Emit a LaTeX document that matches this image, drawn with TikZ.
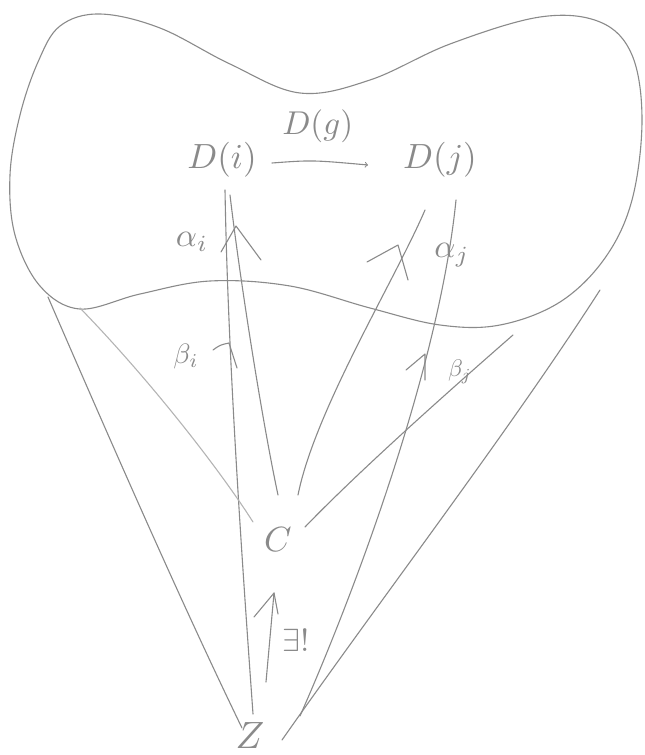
\documentclass[tikz,border=0pt]{standalone}
\usetikzlibrary{calc}
\definecolor{pen}{HTML}{8A8A8A}
\definecolor{penlight}{HTML}{B4B4B4}
\newcommand{\handtxt}[2]{\scalebox{#1}{$#2$}}
\begin{document}
\begin{tikzpicture}[x=1pt,y=-1pt,
  stroke/.style={draw=pen,line width=1.1pt,line cap=round,line join=round},
  lightstroke/.style={draw=penlight,line width=1.1pt,line cap=round},
  obj/.style={text=pen,inner sep=0pt},
  lab/.style={text=pen,inner sep=0pt},
  caret/.style={stroke}]
\useasboundingbox (0,0) rectangle (645,755);
% blob
\draw[stroke] plot[smooth cycle,tension=0.6] coordinates {
 (38,62) (60,26) (100,14) (160,28) (230,64) (300,93) (370,80) (450,44) (540,17)
 (600,22) (632,55) (642,120) (632,200) (605,258) (560,302) (500,325) (440,325)
 (370,308) (290,286) (210,281) (140,294) (80,309) (40,286) (15,235) (10,175) (20,115)};
% objects
\node[obj] (Di) at (222,160) {\handtxt{3.5}{D(i)}};
\node[obj] (Dj) at (440,160) {\handtxt{3.5}{D(j)}};
\node[obj] (C) at (278,540) {\handtxt{3.5}{C}};
\node[obj] (Z) at (250,736) {\handtxt{3.8}{Z}};
% free ends
\coordinate (bjend) at (513,335);
\coordinate (l1end) at (48,297);
\coordinate (l2end) at (80,308);
\coordinate (l8end) at (600,290);
% D(g)
\draw[stroke,->] ($(Di)+(50,3)$) .. controls ($(Di)+(90,0)$) .. ($(Dj)+(-72,5)$)
  node[lab,pos=0.55,above=18pt] {\handtxt{3.3}{D(g)}};
% alpha_i : C -> D(i)
\draw[stroke] ($(Di)+(8,35)$) .. controls ($(Di)+(18,120)$) and ($(C)+(-16,-120)$) .. ($(C)+(0,-45)$);
% alpha_j : C -> D(j)
\draw[stroke] ($(Dj)+(-15,50)$) .. controls ($(Dj)+(-45,120)$) and ($(C)+(37,-130)$) .. ($(C)+(20,-45)$);
% beta_i : Z -> D(i)
\draw[stroke] ($(Di)+(3,30)$) .. controls ($(Di)+(6,200)$) and ($(Z)+(-8,-176)$) .. ($(Z)+(3,-22)$);
% beta_j : Z -> D(j)
\draw[stroke] ($(Dj)+(16,40)$) .. controls ($(Dj)+(0,200)$) and ($(Z)+(110,-156)$) .. ($(Z)+(50,-20)$);
% cone lines
\draw[stroke] ($(C)+(27,-13)$) .. controls ($(C)+(82,-70)$) and (450,390) .. (bjend);
\draw[stroke] (l1end) .. controls (110,440) and (180,600) .. ($(Z)+(-8,-8)$);
\draw[lightstroke] (l2end) .. controls (150,380) and (220,470) .. ($(C)+(-25,-18)$);
\draw[stroke] (l8end) .. controls (510,430) and (380,600) .. ($(Z)+(32,4)$);
% unique arrow Z -> C
\draw[stroke] ($(Z)+(16,-54)$) -- ($(C)+(-4,53)$);
\draw[caret] (254,617) -- (274,593) -- (278,614);
% carets
\draw[caret] (221,252) -- (236,226) -- (261,260);
\draw[caret] (367,262) -- (398,245) -- (408,280);
\draw[caret] (213,350) .. controls (220,345) .. (229,343) -- (237,368);
\draw[caret] (406,370) -- (425,354) -- (425,380);
% labels
\node[lab] at (192,242) {\handtxt{3.3}{\alpha_i}};
\node[lab] at (452,255) {\handtxt{3.3}{\alpha_j}};
\node[lab] at (186,356) {\handtxt{2.8}{\beta_i}};
\node[lab] at (460,372) {\handtxt{2.4}{\beta_j}};
\node[lab] at (296,640) {\handtxt{3.2}{\exists!}};
\end{tikzpicture}
\end{document}
